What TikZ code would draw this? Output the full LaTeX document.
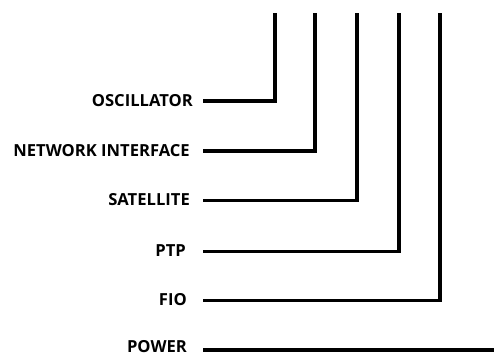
\documentclass[tikz,border=0pt]{standalone}
\usepackage{fontspec}
\setmainfont{Open Sans}
\begin{document}
\begin{tikzpicture}[x=1pt,y=-1pt,
  lbl/.style={font=\bfseries\fontsize{16.6}{18}\selectfont, inner sep=0pt, anchor=base east},
  wire/.style={line width=3.2pt, line join=miter}]
\useasboundingbox (0,0) rectangle (494,356);
\node[lbl] (osc) at (193,106) {OSCILLATOR};
\node[lbl] (net) at (190,156) {NETWORK INTERFACE};
\node[lbl] (sat) at (190,205.5) {SATELLITE};
\node[lbl] (ptp) at (186,256.5) {PTP};
\node[lbl] (fio) at (187,305.5) {FIO};
\node[lbl] (pow) at (187,352.5) {POWER};
\coordinate (t1) at (275,13);
\coordinate (t2) at (315,13);
\coordinate (t3) at (357,13);
\coordinate (t4) at (399,13);
\coordinate (t5) at (440,13);
\coordinate (pe) at (494,350);
\draw[wire] (203,101) coordinate (s1) -| (t1);
\draw[wire] (203,151) coordinate (s2) -| (t2);
\draw[wire] (203,200.5) coordinate (s3) -| (t3);
\draw[wire] (203,251.5) coordinate (s4) -| (t4);
\draw[wire] (203,300.5) coordinate (s5) -| (t5);
\draw[wire] (203,350) coordinate (s6) -- (pe);
\end{tikzpicture}
\end{document}
